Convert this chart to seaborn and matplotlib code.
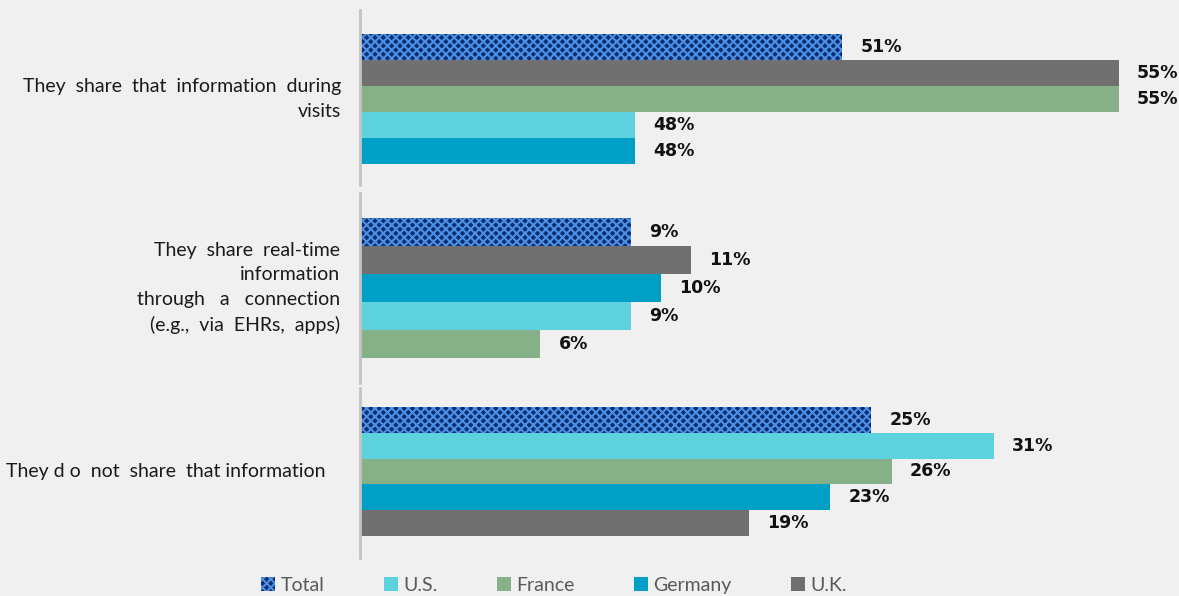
import matplotlib
matplotlib.use("Agg")
import matplotlib.pyplot as plt
import matplotlib.transforms as mtransforms
from matplotlib.patches import Patch
import seaborn as sns

# ---- data ----
questions = [
    "They  share  that  information  during\nvisits",
    "They  share  real-time\ninformation\nthrough   a   connection\n(e.g.,  via  EHRs,  apps)",
    "They d o  not  share  that information",
]
group1_names = ["Total", "U.K.", "France", "U.S.", "Germany"]
group1_values = [51, 55, 55, 48, 48]
group2_names = ["Total", "U.K.", "Germany", "U.S.", "France"]
group2_values = [9, 11, 10, 9, 6]
group3_names = ["Total", "U.S.", "France", "Germany", "U.K."]
group3_values = [25, 31, 26, 23, 19]
legend_order = ["Total", "U.S.", "France", "Germany", "U.K."]

colors = {
    "Total": "#0c2d6b",
    "U.S.": "#5ed1df",
    "France": "#86b088",
    "Germany": "#00a0c6",
    "U.K.": "#707070",
}
hatch_color = "#4a90e8"
bg = "#f0f0f0"

sns.set_theme(style="white")
plt.rcParams["font.family"] = ["Lato", "DejaVu Sans"]
plt.rcParams["hatch.linewidth"] = 1.5

fig = plt.figure(figsize=(11.79, 5.96), dpi=100, facecolor=bg)

W, H = 1179.0, 596.0
left = 360 / W
width = (1179 - 360) / W
panels = [
    # (top px, bottom px, xlim, ylim(bottom, top))
    (10, 185, (44.02, 55.87), (5.308, -1.423)),
    (193, 383, (0, 27.23), (5.393, -1.393)),
    (388, 558, (0, 40.05), (5.353, -1.236)),
]
groups = [
    (group1_names, group1_values),
    (group2_names, group2_values),
    (group3_names, group3_values),
]
label_x_px = [341, 340, 325]

for i, ((top, bot, xlim, ylim), (names, vals)) in enumerate(zip(panels, groups)):
    ax = fig.add_axes([left, 1 - bot / H, width, (bot - top) / H])
    ax.set_facecolor(bg)
    sns.barplot(x=vals, y=names, hue=names, order=names, hue_order=names,
                palette=[colors[n] for n in names], orient="h", width=1.0,
                saturation=1, legend=False, ax=ax, linewidth=0)
    for container, v in zip(ax.containers, vals):
        for bar in container:
            if abs(bar.get_y() + bar.get_height() / 2) < 0.01:
                bar.set_hatch("xxxx")
                bar.set_edgecolor(hatch_color)
                bar.set_linewidth(0)
        ax.bar_label(container, labels=[f"{v}%"], padding=13,
                     fontsize=12.5, fontweight="bold", color="#111111",
                     family="DejaVu Sans")
    ax.set_xlim(*xlim)
    ax.set_ylim(*ylim)
    ax.set_xticks([])
    ax.set_yticks([])
    ax.set_xlabel("")
    ax.set_ylabel("")
    for s in ["top", "right", "bottom"]:
        ax.spines[s].set_visible(False)
    ax.spines["left"].set_color("#c4c4c4")
    ax.spines["left"].set_linewidth(2)
    trans = mtransforms.blended_transform_factory(fig.transFigure, ax.transData)
    ax.text(label_x_px[i] / W, 2, questions[i], transform=trans, ha="right",
            va="center", multialignment="right", fontsize=14,
            color="#1a1a1a", linespacing=1.55)

handles = []
for n in legend_order:
    if n == "Total":
        handles.append(Patch(facecolor=colors[n], edgecolor=hatch_color,
                             hatch="xxxx", linewidth=0, label=n))
    else:
        handles.append(Patch(facecolor=colors[n], linewidth=0, label=n))
leg = fig.legend(handles=handles, loc="center", bbox_to_anchor=(0.47, 0.018),
                 ncol=5, frameon=False, fontsize=14, handlelength=0.7,
                 handleheight=0.7, handletextpad=0.3, columnspacing=3.05,
                 labelcolor="#595959", borderpad=0.1)

fig.savefig("out.png", dpi=100, facecolor=bg)
